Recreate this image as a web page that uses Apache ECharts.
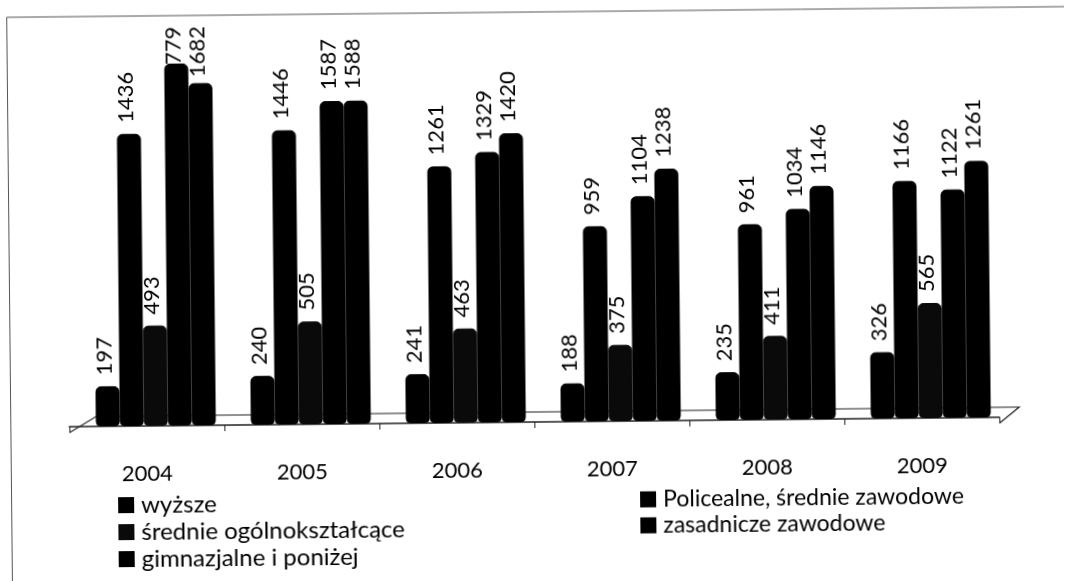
<!DOCTYPE html>
<html>
<head>
<meta charset="utf-8">
<script src="https://cdn.jsdelivr.net/npm/echarts@6/dist/echarts.min.js"></script>
<style>
html,body{margin:0;padding:0;background:#fff;overflow:hidden;}
/* the scan is slightly tilted */
#main{width:1067px;height:581px;transform:rotate(-0.58deg);}
</style>
</head>
<body>
<div id="main"></div>
<script>
var years = ['2004','2005','2006','2007','2008','2009'];
var wyzsze = [197,240,241,188,235,326];
var policealne = [1436,1446,1261,959,961,1166];
var srednie = [493,505,463,375,411,565];
var zasadnicze = [1779,1587,1329,1104,1034,1122];
var gimnazjalne = [1682,1588,1420,1238,1146,1261];

var font = 'Lato';
var myChart = echarts.init(document.getElementById('main'));

function makeSeries(name, values, color){
    return {
        name: name,
        type: 'bar',
        barWidth: 24,
        barGap: 0,
        xAxisIndex: 0,
        yAxisIndex: 0,
        itemStyle: {color: color, borderColor: color, borderWidth: 1, borderRadius: [5,5,4,4]},
        label: {
            show: true,
            position: 'top',
            rotate: 90,
            align: 'left',
            verticalAlign: 'middle',
            distance: 11,
            offset: [0,-3],
            fontFamily: font,
            fontSize: 22,
            color: '#000'
        },
        data: values.map(function(v){
            // etykiety 1779 i 1682 wchodza na slupek
            if(v == 1779){
                return {value: v, label: {offset: [-25,-3]}};
            }
            if(v == 1682){
                return {value: v, label: {offset: [-5,-3]}};
            }
            return v;
        })
    };
}

var option = {
    animation: false,
    backgroundColor: '#fff',
    grid: [
        {left: 77, top: 15, width: 930, height: 407},// slupki
        {left: 68, top: 15, width: 930, height: 407}// os z latami
    ],
    legend: [
        {
            data: ['wyższe','średnie ogólnokształcące','gimnazjalne i poniżej'],
            orient: 'vertical',
            left: 111,
            top: 484,
            icon: 'rect',
            itemWidth: 14,
            itemHeight: 14,
            itemGap: 3,
            textStyle: {fontFamily: font, fontSize: 24, color: '#000', padding: [0,0,0,3]}
        },
        {
            data: ['Policealne, średnie zawodowe','zasadnicze zawodowe'],
            orient: 'vertical',
            left: 633,
            top: 484,
            icon: 'rect',
            itemWidth: 14,
            itemHeight: 14,
            itemGap: 3,
            textStyle: {fontFamily: font, fontSize: 23, color: '#000', padding: [0,0,0,3]}
        }
    ],
    xAxis: [
        {type: 'category', gridIndex: 0, data: years, show: false},
        {
            type: 'category',
            gridIndex: 1,
            data: years,
            offset: 6,
            axisLine: {lineStyle: {color: '#222', width: 1.5}},
            axisTick: {show: true, length: 6, alignWithLabel: false, lineStyle: {color: '#222'}},
            axisLabel: {fontFamily: font, fontSize: 22, color: '#000', margin: 31}
        }
    ],
    yAxis: [
        {type: 'value', gridIndex: 0, min: 0, max: 2000, show: false},
        {type: 'value', gridIndex: 1, min: 0, max: 2000, show: false}
    ],
    series: [
        makeSeries('wyższe', wyzsze, '#000'),
        makeSeries('Policealne, średnie zawodowe', policealne, '#000'),
        makeSeries('średnie ogólnokształcące', srednie, '#0a0a0a'),
        makeSeries('zasadnicze zawodowe', zasadnicze, '#000'),
        makeSeries('gimnazjalne i poniżej', gimnazjalne, '#000')
    ],
    graphic: [
        // ramka wykresu
        {type:'polyline', silent:true, shape:{points:[[9.5,590],[9.5,12],[1075,12]]}, style:{fill:'none', stroke:'#555', lineWidth:1}},
        // podloga 3D
        {type:'polyline', z:0, silent:true, shape:{points:[[68,428],[95,412],[1018,412],[998,428]]}, style:{fill:'none', stroke:'#222', lineWidth:1.2}}
    ]
};
myChart.setOption(option);
</script>
</body>
</html>
